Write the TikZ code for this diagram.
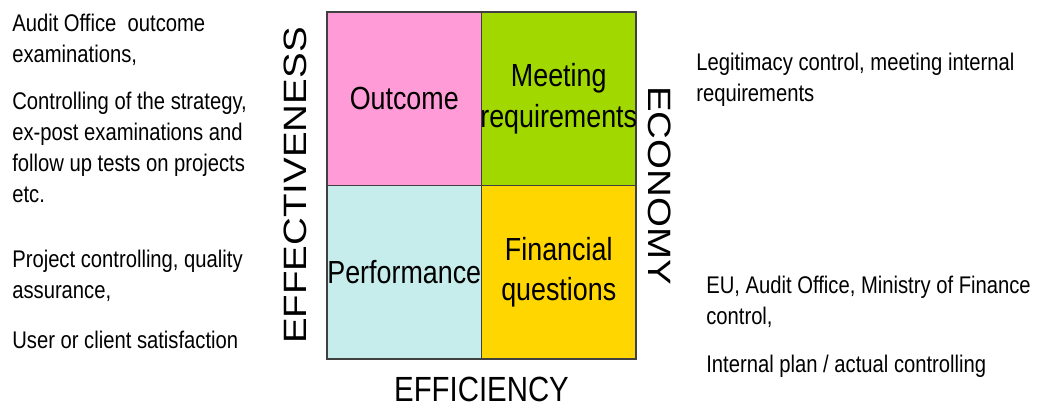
\documentclass[tikz,border=0pt]{standalone}
\usepackage{fontspec}
\setmainfont{Liberation Sans}
\usetikzlibrary{positioning}
\definecolor{outcomepink}{RGB}{255, 155, 214}
\definecolor{meetgreen}{RGB}{160, 216, 0}
\definecolor{perfcyan}{RGB}{198, 236, 236}
\definecolor{finyellow}{RGB}{255, 214, 0}
\definecolor{cellborder}{RGB}{64, 64, 64}

\begin{document}
\begin{tikzpicture}[
  cell/.style={draw=cellborder, line width=0.6pt, minimum width=3.09cm, minimum height=3.47cm,
               inner sep=0pt, outer sep=0pt},
  quad/.style={font=\fontsize{18.2}{22.8}\selectfont, align=center, inner sep=0pt, xscale=0.84},
  note/.style={font=\fontsize{13.7}{17.6}\selectfont, align=left, inner sep=0pt,
               anchor=north west, xscale=0.84},
  axis/.style={font=\fontsize{19.9}{24}\selectfont, inner sep=0pt},
  sideaxis/.style={axis, font=\fontsize{21.9}{26}\selectfont, yscale=0.84, anchor=south}
]
  \useasboundingbox (0,0) rectangle (20.74,8.14);

  % Quadrants
  \node[cell, fill=outcomepink] (outcome) at (8.085, 6.165) {};
  \node[cell, fill=meetgreen, right=0pt of outcome] (meeting) {};
  \node[cell, fill=perfcyan, below=0pt of outcome] (perf) {};
  \node[cell, fill=finyellow, right=0pt of perf] (finance) {};

  \node[quad] (outcome-lbl) at (outcome) {Outcome};
  \node[quad] (meeting-lbl) at (meeting) {Meeting\\requirements};
  \node[quad] (perf-lbl) at (perf) {Performance};
  \node[quad] (finance-lbl) at (finance) {Financial\\questions};

  % Axis names
  \node[axis, xscale=0.84, below=0.35cm of perf.south east] (efficiency) {EFFICIENCY};
  \node[rotate=90, sideaxis] (effectiveness) at ([xshift=-0.40cm]perf.north west) {EFFECTIVENESS};
  \node[rotate=-90, sideaxis] (economy) at ([xshift=0.24cm]finance.north east) {ECONOMY};

  % Left notes
  \node[note] (audit) at (0.24, 7.87) {Audit Office~ outcome\\examinations,};
  \node[note] (strategy) at (0.24, 6.31)
    {Controlling of the strategy,\\ex-post examinations and\\follow up tests on projects\\etc.};
  \node[note] (project) at (0.24, 3.15) {Project controlling, quality\\assurance,};
  \node[note] (user) at (0.24, 1.53) {User or client satisfaction};

  % Right notes
  \node[note] (legit) at (13.92, 7.09) {Legitimacy control, meeting internal\\requirements};
  \node[note] (eu) at (14.12, 2.63) {EU, Audit Office, Ministry of Finance\\control,};
  \node[note] (internal) at (14.12, 1.05) {Internal plan / actual controlling};

\end{tikzpicture}
\end{document}
